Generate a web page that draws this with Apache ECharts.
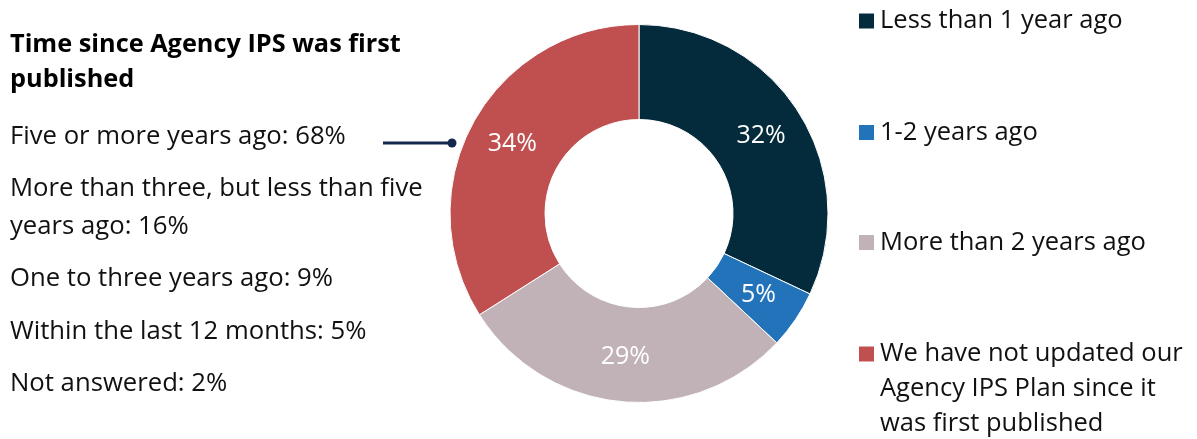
<!DOCTYPE html>
<html>
<head>
<meta charset="utf-8">
<script src="https://cdn.jsdelivr.net/npm/echarts@6/dist/echarts.min.js"></script>
<style>
  html, body { margin: 0; padding: 0; background: #ffffff; }
  #chart { width: 1197px; height: 439px; }
</style>
</head>
<body>
<div id="chart"></div>
<script>
// Survey answers: when the agency IPS plan was last updated
const categories = [
  'Less than 1 year ago',
  '1-2 years ago',
  'More than 2 years ago',
  'We have not updated our\nAgency IPS Plan since it\nwas first published'
];
const shares = [32, 5, 29, 34];
const sliceColors = ['#032B3B', '#2273BA', '#C0B2B6', '#C0504F'];

// Side note about the "not updated" group
const noteTitle = ['Time since Agency IPS was first', 'published'];
const noteLines = [
  ['Five or more years ago: 68%'],
  ['More than three, but less than five', 'years ago: 16%'],
  ['One to three years ago: 9%'],
  ['Within the last 12 months: 5%'],
  ['Not answered: 2%']
];

const textFont = '"Open Sans", "Noto Sans", sans-serif';
const legendFont = '"Open Sans", "Noto Sans", sans-serif';

const chart = echarts.init(document.getElementById('chart'), null, { renderer: 'canvas' });

// Text blocks on the left
const graphics = [];
noteTitle.forEach((line, i) => {
  graphics.push({
    type: 'text',
    x: 10, y: 45 + i * 35,
    style: { text: line, font: 'bold 25.3px ' + textFont, fill: '#000', verticalAlign: 'middle' }
  });
});
let y = 136.5;
noteLines.forEach(par => {
  par.forEach((line, j) => {
    graphics.push({
      type: 'text',
      x: 10, y: y + j * 38,
      style: { text: line, font: '25.7px ' + textFont, fill: '#111', verticalAlign: 'middle' }
    });
  });
  y += (par.length - 1) * 38 + 52.3;
});
// Callout tying the note to the red slice
graphics.push({
  type: 'line',
  shape: { x1: 383, y1: 143, x2: 452, y2: 143 },
  style: { stroke: '#14284B', lineWidth: 3 }
});
graphics.push({
  type: 'circle',
  shape: { cx: 452, cy: 143, r: 4.5 },
  style: { fill: '#14284B' }
});

// One legend block per category so each can sit at its own height;
// the long entry gets two blank lines on top so its marker lines up with the first text line
const legendTops = [3, 114.5, 224.5, 266.5];
const legends = categories.map((name, i) => ({
  orient: 'vertical',
  left: 857,
  top: legendTops[i],
  padding: 0,
  icon: 'rect',
  itemWidth: 17,
  itemHeight: 17,
  selectedMode: false,
  data: [name],
  formatter: n => (i === 3 ? '\n\n' + n : n),
  textStyle: {
    fontFamily: legendFont,
    fontSize: 25.5,
    color: '#111',
    lineHeight: i === 3 ? 35 : 36
  }
}));

chart.setOption({
  animation: false,
  color: sliceColors,
  legend: legends,
  graphic: graphics,
  series: [{
    type: 'pie',
    center: [639, 213.5],
    radius: [94, 189],
    startAngle: 90,
    clockwise: true,
    avoidLabelOverlap: false,
    itemStyle: { borderColor: '#fff', borderWidth: 1 },
    label: {
      show: true,
      position: 'inside',
      formatter: '{c}%',
      color: '#fff',
      fontFamily: '"Open Sans", "Noto Sans", sans-serif',
      fontSize: 25
    },
    labelLine: { show: false },
    emphasis: { disabled: true },
    data: categories.map((name, i) => ({ name, value: shares[i] }))
  }]
});
</script>
</body>
</html>
